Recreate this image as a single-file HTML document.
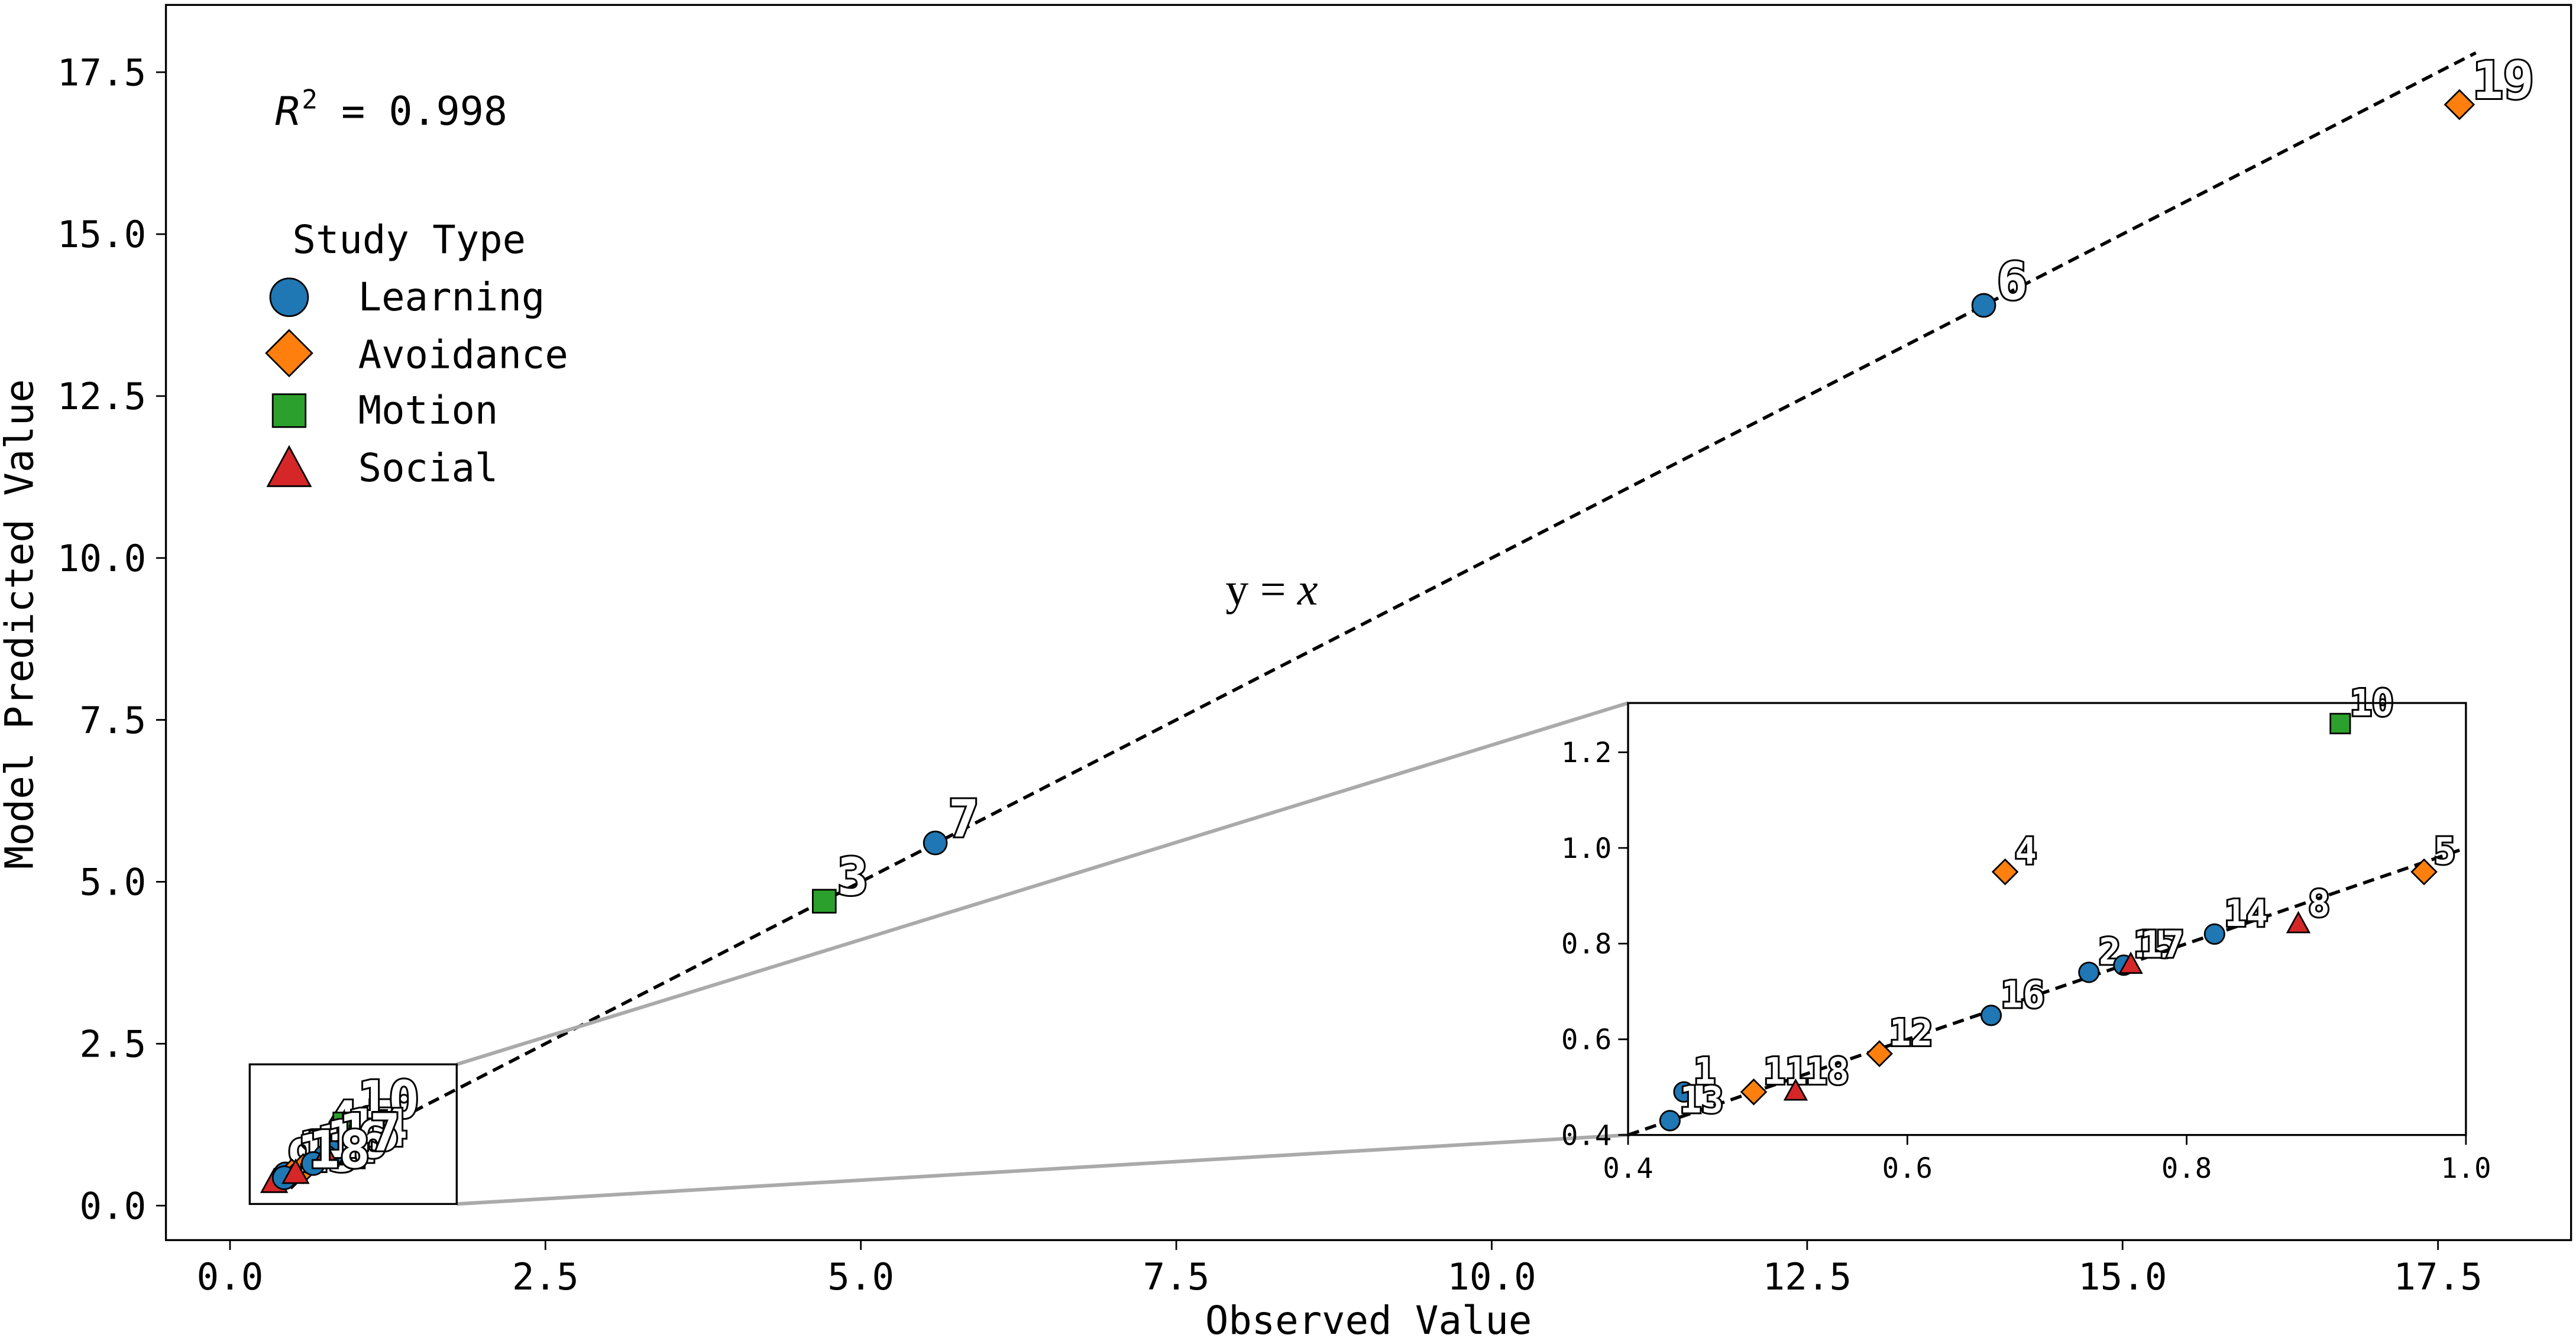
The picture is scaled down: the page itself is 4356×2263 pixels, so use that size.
<!DOCTYPE html>
<html><head><meta charset="utf-8"><style>
html,body{margin:0;padding:0;background:#fff}
svg{display:block}
text{font-family:"DejaVu Sans Mono","Liberation Mono",monospace}
.lbl{fill:#fff;stroke:#000;stroke-width:2.2;paint-order:stroke;font-weight:bold}
</style></head><body>
<svg id="chart" width="4356" height="2263" viewBox="0 0 1568 814.6" xmlns="http://www.w3.org/2000/svg">
<rect x="101" y="3" width="1464" height="752" fill="none" stroke="#000" stroke-width="1.2"/>
<g id="axes"></g>
<g id="mainMarks"></g>
<text x="167" y="76" font-size="24"><tspan font-style="italic" font-family="DejaVu Sans">R</tspan><tspan dy="-10" font-size="16">2</tspan><tspan dy="10"> = 0.998</tspan></text>
<text x="746" y="368" font-size="28" style="font-family:'Liberation Serif',serif">y = <tspan font-style="italic">x</tspan></text>
<g>
<text x="178" y="154" font-size="23.6">Study Type</text>
<g><circle cx="176" cy="181" r="11.5" fill="#1f77b4" stroke="#000" stroke-width="1"/><text x="218" y="189" font-size="23.6">Learning</text></g>
<g><polygon points="176,201 190,215 176,229 162,215" fill="#ff7f0e" stroke="#000" stroke-width="1"/><text x="218" y="224" font-size="23.6">Avoidance</text></g>
<g><rect x="166" y="240" width="20" height="20" fill="#2ca02c" stroke="#000" stroke-width="1"/><text x="218" y="258" font-size="23.6">Motion</text></g>
<g><polygon points="176,272 189,296 163,296" fill="#d62728" stroke="#000" stroke-width="1"/><text x="218" y="293" font-size="23.6">Social</text></g>
</g>
<text x="833" y="812" font-size="23.6" text-anchor="middle">Observed Value</text>
<text transform="translate(20,380) rotate(-90)" font-size="23.6" text-anchor="middle">Model Predicted Value</text>
<line x1="278" y1="648" x2="991" y2="428" stroke="#aaa" stroke-width="2.2"/>
<line x1="278" y1="733" x2="991" y2="691" stroke="#aaa" stroke-width="2.2"/>
<rect x="152" y="648" width="126" height="85" fill="none" stroke="#000" stroke-width="1.2"/>
<rect x="991" y="428" width="510" height="263" fill="#fff"/>
<g id="inset"></g>
<rect x="991" y="428" width="510" height="263" fill="none" stroke="#000" stroke-width="1.2"/>
</svg>
<script>
const ids = [1,2,3,4,5,6,7,8,9,10,11,12,13,14,15,16,17,18,19];
const observed = [0.44,0.73,4.71,0.67,0.97,13.9,5.59,0.88,0.35,0.91,0.49,0.58,0.43,0.82,0.755,0.66,0.76,0.52,17.67];
const predicted = [0.49,0.74,4.7,0.95,0.95,13.9,5.6,0.84,0.35,1.26,0.49,0.57,0.43,0.82,0.755,0.65,0.755,0.49,17.0];
const studyType = ["Learning","Learning","Motion","Avoidance","Avoidance","Learning","Learning","Social","Social","Motion","Avoidance","Avoidance","Learning","Learning","Learning","Learning","Social","Social","Avoidance"];
const mainTicks = [0,2.5,5,7.5,10,12.5,15,17.5];
const mainTickLabels = ["0.0","2.5","5.0","7.5","10.0","12.5","15.0","17.5"];
const insetXTicks = [0.4,0.6,0.8,1.0];
const insetXTickLabels = ["0.4","0.6","0.8","1.0"];
const insetYTicks = [0.4,0.6,0.8,1.0,1.2];
const insetYTickLabels = ["0.4","0.6","0.8","1.0","1.2"];

const NS="http://www.w3.org/2000/svg";
const colors={Learning:"#1f77b4",Avoidance:"#ff7f0e",Motion:"#2ca02c",Social:"#d62728"};
const mx=v=>140+v*76.8, my=v=>734-v*39.43;
const ix=v=>991+(v-0.4)/0.6*510, iy=v=>691-(v-0.4)/0.2*58.25;
function mk(tag,attrs,parent){const e=document.createElementNS(NS,tag);for(const k in attrs)e.setAttribute(k,attrs[k]);parent.appendChild(e);return e;}
function marker(type,x,y,s,parent){
  const st={fill:colors[type],stroke:"#000","stroke-width":1};
  let e;
  if(type==="Learning") e=mk("circle",Object.assign({cx:x,cy:y,r:s},st),parent);
  else if(type==="Avoidance") e=mk("polygon",Object.assign({points:`${x},${y-s*1.25} ${x+s*1.25},${y} ${x},${y+s*1.25} ${x-s*1.25},${y}`},st),parent);
  else if(type==="Motion") e=mk("rect",Object.assign({x:x-s,y:y-s,width:2*s,height:2*s},st),parent);
  else e=mk("polygon",Object.assign({points:`${x},${y-s*1.2} ${x+s*1.1},${y+s*0.8} ${x-s*1.1},${y+s*0.8}`},st),parent);
  return e;
}
const axes=document.getElementById("axes");
mainTicks.forEach((t,i)=>{
  let l=mk("line",{x1:mx(t),x2:mx(t),y1:755,y2:761,stroke:"#000"},axes);
  
  
  let tx=mk("text",{x:mx(t),y:785,"font-size":22.5,"text-anchor":"middle"},axes);tx.textContent=mainTickLabels[i];
  
  
  let l2=mk("line",{x1:95,x2:101,y1:my(t),y2:my(t),stroke:"#000"},axes);
  
  
  let ty=mk("text",{x:89,y:my(t)+8,"font-size":22.5,"text-anchor":"end"},axes);ty.textContent=mainTickLabels[i];
  
  
});
const mm=document.getElementById("mainMarks");
let dl=mk("line",{x1:mx(0.3),y1:my(0.3),x2:mx(17.8),y2:my(17.8),stroke:"#000","stroke-width":2,"stroke-dasharray":"7,4"},mm);


ids.forEach((id,i)=>{
  const x=mx(observed[i]),y=my(predicted[i]);
  const m=marker(studyType[i],x,y,7,mm);
  
  
  const t=mk("text",{x:x+8,y:y-4,"font-size":31,"class":"lbl"},mm);t.textContent=id;
  
  
});
const ins=document.getElementById("inset");
let idl=mk("line",{x1:ix(0.4),y1:iy(0.4),x2:ix(1.0),y2:iy(1.0),stroke:"#000","stroke-width":2,"stroke-dasharray":"7,4"},ins);


insetXTicks.forEach((t,i)=>{
  let l=mk("line",{x1:ix(t),x2:ix(t),y1:691,y2:697,stroke:"#000"},ins);
  
  
  let tx=mk("text",{x:ix(t),y:717,"font-size":17,"text-anchor":"middle"},ins);tx.textContent=insetXTickLabels[i];
  
  
});
insetYTicks.forEach((t,i)=>{
  let l=mk("line",{x1:985,x2:991,y1:iy(t),y2:iy(t),stroke:"#000"},ins);
  
  
  let ty=mk("text",{x:981,y:iy(t)+6,"font-size":17,"text-anchor":"end"},ins);ty.textContent=insetYTickLabels[i];
  
  
});
ids.forEach((id,i)=>{
  const o=observed[i],p=predicted[i];
  if(o<0.4||o>1.0||p<0.4||p>1.3) return;
  const x=ix(o),y=iy(p);
  const m=marker(studyType[i],x,y,6,ins);
  
  
  const t=mk("text",{x:x+6,y:y-5,"font-size":22,"class":"lbl"},ins);t.textContent=id;
  
  
});
</script>
</body></html>
